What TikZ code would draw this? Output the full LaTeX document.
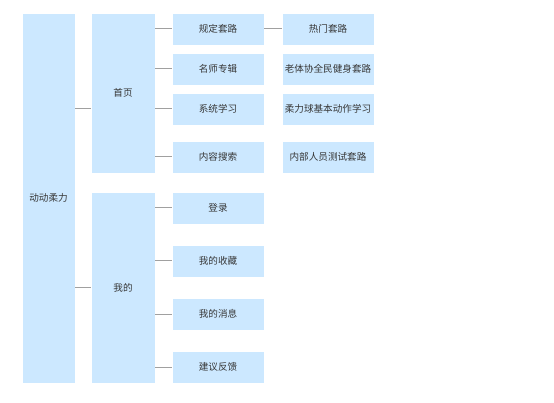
\documentclass[tikz,border=0pt]{standalone}
\usepackage{fontspec}
\newfontfamily\cjk{Noto Sans CJK SC}
\usepackage{tikz}
\usetikzlibrary{positioning}
\definecolor{boxblue}{RGB}{204,232,255}
\definecolor{linegray}{RGB}{160,160,160}
\definecolor{txtgray}{RGB}{55,55,55}

\begin{document}
\begin{tikzpicture}[x=1pt, y=-1pt,
    every node/.style={font=\cjk\fontsize{9.6pt}{12pt}\selectfont, text=txtgray},
    menubox/.style={fill=boxblue, draw=white, line width=0.6pt, inner sep=0pt},
    leafbox/.style={menubox, minimum width=92pt, minimum height=32pt},
    branch/.style={draw=linegray, line width=1pt}]
  \useasboundingbox (0,0) rectangle (554,403);
  % root and first level
  \node[menubox, minimum width=53pt, minimum height=370pt]  (root) at (48.5,198)  {动动柔力};
  \node[menubox, minimum width=64pt, minimum height=160pt]  (home) at (123,93)    {首页};
  \node[menubox, minimum width=64pt, minimum height=191pt]  (mine) at (123,287.5) {我的};
  % second level
  \node[leafbox] (rule)   at (218,29)  {规定套路};
  \node[leafbox] (famous) at (218,69)  {名师专辑};
  \node[leafbox] (study)  at (218,109) {系统学习};
  \node[leafbox] (search) at (218,157) {内容搜索};
  \node[leafbox] (login)  at (218,208) {登录};
  \node[leafbox] (fav)    at (218,261) {我的收藏};
  \node[leafbox] (msg)    at (218,314) {我的消息};
  \node[leafbox] (advice) at (218,367) {建议反馈};
  % third level
  \node[leafbox] (hot)    at (328,29)  {热门套路};
  \node[leafbox] (elder)  at (328,69)  {老体协全民健身套路};
  \node[leafbox] (basic)  at (328,109) {柔力球基本动作学习};
  \node[leafbox] (inner)  at (328,157) {内部人员测试套路};
  % connectors
  \draw[branch] (root.east |- study.west) -- (home.west |- study.west);
  \draw[branch] (root.east |- mine.west) -- (mine.west);
  \foreach \c in {rule,famous,study,search}
    \draw[branch] (home.east |- \c.west) -- (\c.west);
  \foreach \c in {login,fav,msg,advice}
    \draw[branch] (mine.east |- \c.west) -- (\c.west);
  \draw[branch] (rule.east) -- (hot.west);
\end{tikzpicture}
\end{document}
